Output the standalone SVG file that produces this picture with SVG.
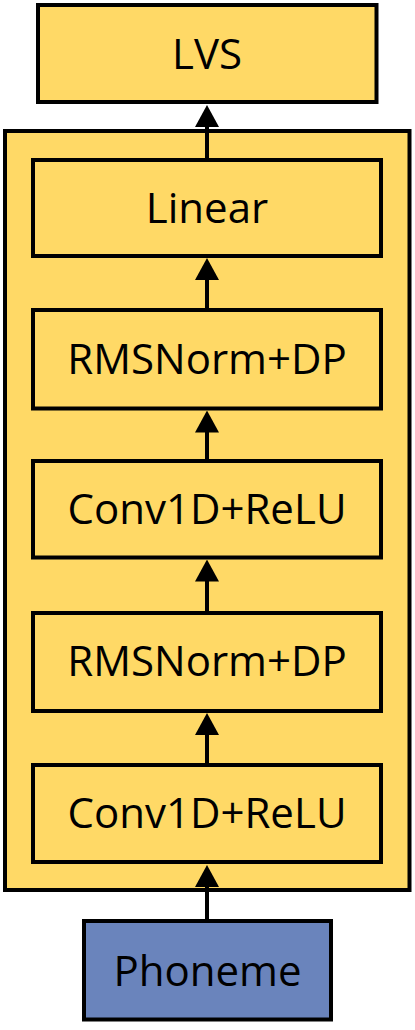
<svg xmlns="http://www.w3.org/2000/svg" width="415" height="1030" viewBox="0 0 415 1030">
<style>
.y{fill:#FFD966;stroke:#000;stroke-width:4}
.b{fill:#6A84BC;stroke:#000;stroke-width:4}
.t{font-family:"Open Sans","Liberation Sans",sans-serif;font-size:42px;fill:#000;text-anchor:middle}
.c{stroke:#000;stroke-width:4;fill:none;marker-end:url(#ah)}
</style>
<defs>
<marker id="ah" markerUnits="userSpaceOnUse" viewBox="0 0 22 24" markerWidth="22" markerHeight="24" refX="12" refY="12" orient="auto">
<path d="M0,0 L22,12 L0,24 z" fill="#000"/>
</marker>
</defs>
<rect width="415" height="1030" fill="#fff"/>
<g id="lvs"><rect class="y" x="38" y="5" width="338.5" height="97"/><text class="t" x="207" y="68.5">LVS</text></g>
<g id="container"><rect class="y" x="5" y="131" width="404.5" height="759"/></g>
<g id="linear"><rect class="y" x="33" y="160" width="348" height="96"/><text class="t" x="207" y="223">Linear</text></g>
<g id="rmsnorm2"><rect class="y" x="33" y="310" width="348" height="98.5"/><text class="t" x="207" y="373.5">RMSNorm+DP</text></g>
<g id="conv2"><rect class="y" x="33" y="461" width="348" height="96.5"/><text class="t" x="207" y="523.5">Conv1D+ReLU</text></g>
<g id="rmsnorm1"><rect class="y" x="33" y="613" width="348" height="98"/><text class="t" x="207" y="676">RMSNorm+DP</text></g>
<g id="conv1"><rect class="y" x="33" y="765" width="348" height="97"/><text class="t" x="207" y="828">Conv1D+ReLU</text></g>
<g id="phoneme"><rect class="b" x="84" y="921" width="247" height="98.5"/><text class="t" x="207.5" y="985.5">Phoneme</text></g>
<g id="connectors">
<line class="c" x1="207" y1="919" x2="207" y2="875"/>
<line class="c" x1="207" y1="763" x2="207" y2="723"/>
<line class="c" x1="207" y1="611" x2="207" y2="569.5"/>
<line class="c" x1="207" y1="459" x2="207" y2="420.5"/>
<line class="c" x1="207" y1="308" x2="207" y2="268"/>
<line class="c" x1="207" y1="158" x2="207" y2="115"/>
</g>
</svg>
